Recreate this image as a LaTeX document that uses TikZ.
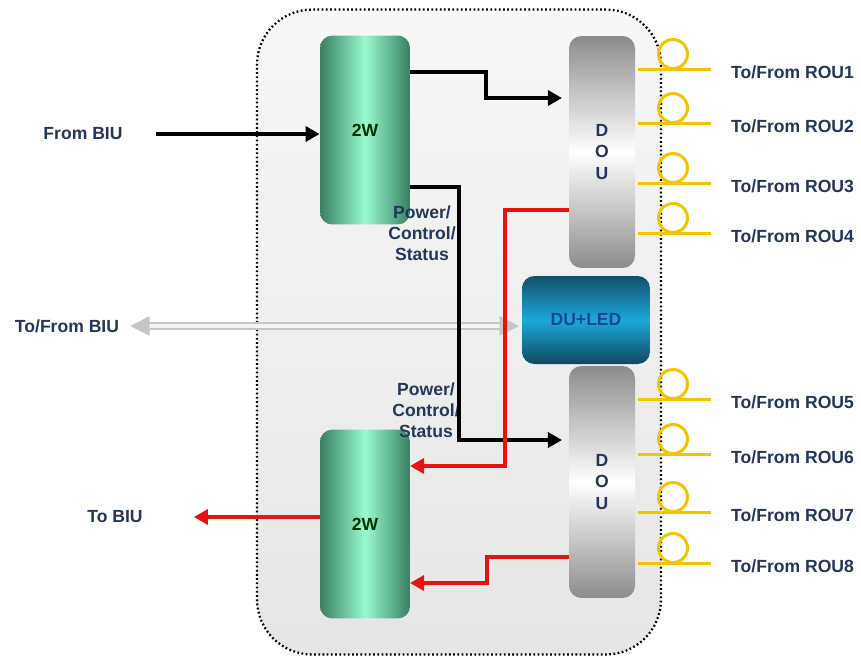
\documentclass[tikz,border=0pt]{standalone}
\usepackage{fontspec}
\setmainfont{Liberation Sans}
\usetikzlibrary{positioning,arrows.meta}

\definecolor{navy}{RGB}{35,55,90}
\definecolor{dkgreen}{RGB}{55,128,98}
\definecolor{mint}{RGB}{152,250,208}
\definecolor{fiber}{RGB}{245,196,0}
\definecolor{sigred}{RGB}{232,18,18}
\definecolor{dkteal}{RGB}{18,80,105}
\definecolor{brblue}{RGB}{28,168,218}
\definecolor{dutext}{RGB}{22,72,150}

\tikzset{
  lbl/.style={font=\bfseries, text=navy, align=center},
  twow/.style={rounded corners=7pt, minimum width=1.8cm, minimum height=3.78cm,
    left color=dkgreen, right color=dkgreen, middle color=mint,
    font=\bfseries, text=black!80!green},
  dou/.style={rounded corners=7pt, minimum width=1.32cm, minimum height=4.64cm,
    top color=gray!90, bottom color=gray!90, middle color=white,
    font=\bfseries, text=navy, align=center},
  sig/.style={line width=2pt, -{Triangle[length=8pt,width=8.5pt]}},
  loop/.style={fiber, line width=1.7pt},
}

\begin{document}
\begin{tikzpicture}[x=0.02cm, y=-0.02cm]
\useasboundingbox (0,0) rectangle (861,657);

% shelf
\node[draw, line width=1.3pt, dash pattern=on 1pt off 1.4pt, rounded corners=1.1cm,
  minimum width=8.08cm, minimum height=12.9cm,
  top color=white!97!black, bottom color=white!90!black] (shelf) at (459,332) {};

% boxes
\node[twow] (twoA) at (365,130) {2W};
\node[twow] (twoB) at (365,524) {2W};
\node[dou] (douA) at (602,152) {D\\O\\U};
\node[dou] (douB) at (602,482) {D\\O\\U};
\node[rounded corners=7pt, minimum width=2.56cm, minimum height=1.76cm,
  top color=dkteal, bottom color=dkteal!90!black, middle color=brblue,
  font=\bfseries, text=dutext] (duled) at (586,320) {DU+LED};

% outside labels
\node[lbl] (frombiu) at (83,134) {From BIU};
\node[lbl] (tofrombiu) at (67,326) {To/From BIU};
\node[lbl] (tobiu) at (115,517) {To BIU};
\node[lbl] (pcsA) at (422,233) {Power/\\Control/\\Status};
\node[lbl] (pcsB) at (426,410) {Power/\\Control/\\Status};

% turning points
\coordinate (aout) at (410,72);
\coordinate (ain) at (562,98);
\coordinate (bout) at (410,187);
\coordinate (bin) at (562,440);
\coordinate (cout) at (569,210);
\coordinate (cin) at (410,466);
\coordinate (dout) at (569,557);
\coordinate (din) at (410,583);
\coordinate (rin) at (519,326);

% to/from BIU
\draw[gray!45, line width=1pt, double=gray!8, double distance=2.6pt,
  {Triangle[length=11pt,width=11pt]}-{Triangle[length=11pt,width=11pt]},
  shorten <=0.1cm] (tofrombiu) -- (rin);

% black arrows
\draw[sig, shorten <=0.54cm] (frombiu) -- (frombiu -| twoA.west);
\draw[sig] (aout) -- (486,72) -- (486,98) -- (ain);
\draw[sig] (bout) -- (459,187) -- (459,440) -- (bin);

% red arrows
\draw[sig, sigred] (cout) -- (505,210) -- (505,466) -- (cin);
\draw[sig, sigred] (dout) -- (487,557) -- (487,583) -- (din);
\draw[sig, sigred, shorten >=0.9cm] (twoB.west |- tobiu) -- (tobiu);

% fibres to the ROUs
\foreach \y/\n in {69/1,123/2,183/3,233/4,399/5,454/6,512/7,563/8}{
  \draw[loop] (638,\y) -- (711,\y);
  \draw[loop] (673,\y-15) circle[radius=0.29cm];
  \node[lbl, anchor=west] (rou\n) at (725,\y+3) {To/From ROU\n};
}

\end{tikzpicture}
\end{document}
